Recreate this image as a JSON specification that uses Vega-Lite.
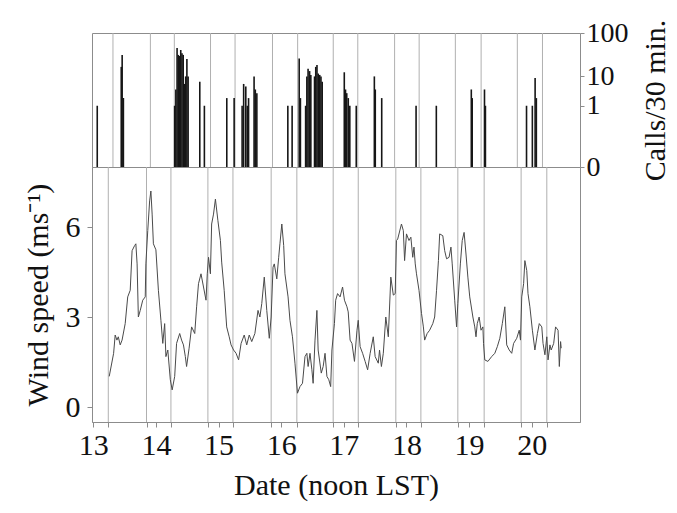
{
  "$schema": "https://vega.github.io/schema/vega-lite/v6.json",
  "padding": {"top": 18, "left": 22, "right": 5, "bottom": 5},
  "background": "white",
  "spacing": 0,
  "bounds": "flush",
  "config": {
    "font": "Liberation Serif",
    "view": {"stroke": "#8c8c8c", "strokeWidth": 1},
    "axis": {
      "labelFont": "Liberation Serif", "titleFont": "Liberation Serif",
      "labelFontSize": 30, "titleFontSize": 30, "titleFontWeight": "normal",
      "labelColor": "#111", "titleColor": "#111",
      "domainColor": "#8c8c8c", "tickColor": "#8c8c8c", "grid": false, "tickSize": 5
    }
  },
  "datasets": {
    "nights": [
      {"date": 13.24}, {"date": 13.85}, {"date": 14.24}, {"date": 14.83}, {"date": 15.23},
      {"date": 15.84}, {"date": 16.25}, {"date": 16.83}, {"date": 17.23}, {"date": 17.83},
      {"date": 18.23}, {"date": 18.82}, {"date": 19.24}, {"date": 19.83}, {"date": 20.24}
    ],
    "calls": [
      {"date": 12.984, "calls": 1},
      {"date": 13.375, "calls": 18}, {"date": 13.39, "calls": 35}, {"date": 13.41, "calls": 2},
      {"date": 14.245, "calls": 1}, {"date": 14.265, "calls": 4}, {"date": 14.285, "calls": 50},
      {"date": 14.305, "calls": 35}, {"date": 14.325, "calls": 33}, {"date": 14.345, "calls": 45},
      {"date": 14.365, "calls": 38}, {"date": 14.385, "calls": 35}, {"date": 14.405, "calls": 6},
      {"date": 14.425, "calls": 10}, {"date": 14.445, "calls": 28}, {"date": 14.465, "calls": 10},
      {"date": 14.655, "calls": 7}, {"date": 14.73, "calls": 1},
      {"date": 15.095, "calls": 2}, {"date": 15.215, "calls": 2},
      {"date": 15.345, "calls": 1}, {"date": 15.37, "calls": 6}, {"date": 15.405, "calls": 5},
      {"date": 15.43, "calls": 1}, {"date": 15.45, "calls": 2},
      {"date": 15.54, "calls": 10}, {"date": 15.56, "calls": 4}, {"date": 15.585, "calls": 3},
      {"date": 16.09, "calls": 1}, {"date": 16.16, "calls": 1},
      {"date": 16.275, "calls": 29}, {"date": 16.295, "calls": 2},
      {"date": 16.38, "calls": 1}, {"date": 16.40, "calls": 10}, {"date": 16.42, "calls": 16},
      {"date": 16.445, "calls": 14}, {"date": 16.465, "calls": 11},
      {"date": 16.525, "calls": 10}, {"date": 16.545, "calls": 18}, {"date": 16.565, "calls": 20},
      {"date": 16.585, "calls": 12}, {"date": 16.61, "calls": 11}, {"date": 16.63, "calls": 10},
      {"date": 16.65, "calls": 7},
      {"date": 17.01, "calls": 13}, {"date": 17.03, "calls": 4}, {"date": 17.05, "calls": 3},
      {"date": 17.075, "calls": 2}, {"date": 17.10, "calls": 1}, {"date": 17.205, "calls": 1},
      {"date": 17.50, "calls": 10}, {"date": 17.515, "calls": 4}, {"date": 17.62, "calls": 2},
      {"date": 18.18, "calls": 1}, {"date": 18.51, "calls": 1},
      {"date": 19.08, "calls": 4}, {"date": 19.095, "calls": 2},
      {"date": 19.295, "calls": 4}, {"date": 19.31, "calls": 1},
      {"date": 19.98, "calls": 1}, {"date": 20.075, "calls": 1},
      {"date": 20.12, "calls": 9}, {"date": 20.14, "calls": 2}
    ],
    "wind": [
      {"date": 13.255, "speed": 1.02}, {"date": 13.325, "speed": 1.79}, {"date": 13.35, "speed": 2.40},
      {"date": 13.378, "speed": 2.23}, {"date": 13.40, "speed": 2.34}, {"date": 13.43, "speed": 2.07},
      {"date": 13.46, "speed": 2.23}, {"date": 13.51, "speed": 2.78}, {"date": 13.55, "speed": 3.67},
      {"date": 13.59, "speed": 3.89}, {"date": 13.62, "speed": 5.21}, {"date": 13.66, "speed": 5.38},
      {"date": 13.68, "speed": 5.44}, {"date": 13.70, "speed": 4.77}, {"date": 13.72, "speed": 3.0},
      {"date": 13.75, "speed": 3.22}, {"date": 13.79, "speed": 3.56}, {"date": 13.83, "speed": 3.67},
      {"date": 13.84, "speed": 4.77}, {"date": 13.87, "speed": 5.88}, {"date": 13.90, "speed": 6.87},
      {"date": 13.92, "speed": 7.2}, {"date": 13.94, "speed": 6.43}, {"date": 13.96, "speed": 5.44},
      {"date": 14.00, "speed": 5.24}, {"date": 14.04, "speed": 3.89}, {"date": 14.08, "speed": 2.89},
      {"date": 14.11, "speed": 2.12}, {"date": 14.14, "speed": 2.78}, {"date": 14.16, "speed": 1.68},
      {"date": 14.19, "speed": 1.9}, {"date": 14.23, "speed": 0.91}, {"date": 14.26, "speed": 0.57},
      {"date": 14.30, "speed": 1.02}, {"date": 14.33, "speed": 2.12}, {"date": 14.38, "speed": 2.45},
      {"date": 14.41, "speed": 2.23}, {"date": 14.44, "speed": 2.07}, {"date": 14.47, "speed": 1.68},
      {"date": 14.49, "speed": 1.35}, {"date": 14.53, "speed": 1.96}, {"date": 14.57, "speed": 2.67},
      {"date": 14.62, "speed": 2.45}, {"date": 14.65, "speed": 3.34}, {"date": 14.68, "speed": 4.11},
      {"date": 14.72, "speed": 4.44}, {"date": 14.76, "speed": 4.0}, {"date": 14.80, "speed": 3.56},
      {"date": 14.82, "speed": 4.44}, {"date": 14.84, "speed": 4.99}, {"date": 14.87, "speed": 4.44},
      {"date": 14.89, "speed": 6.10}, {"date": 14.92, "speed": 6.43}, {"date": 14.95, "speed": 6.93},
      {"date": 14.99, "speed": 6.21}, {"date": 15.03, "speed": 5.55}, {"date": 15.05, "speed": 4.83},
      {"date": 15.09, "speed": 3.89}, {"date": 15.13, "speed": 2.67}, {"date": 15.17, "speed": 2.34},
      {"date": 15.20, "speed": 2.07}, {"date": 15.24, "speed": 1.9}, {"date": 15.28, "speed": 1.79},
      {"date": 15.32, "speed": 1.57}, {"date": 15.36, "speed": 2.12}, {"date": 15.41, "speed": 2.40},
      {"date": 15.45, "speed": 2.07}, {"date": 15.49, "speed": 2.40}, {"date": 15.53, "speed": 2.18},
      {"date": 15.58, "speed": 2.45}, {"date": 15.63, "speed": 3.22}, {"date": 15.66, "speed": 3.0},
      {"date": 15.69, "speed": 3.45}, {"date": 15.73, "speed": 4.33}, {"date": 15.77, "speed": 3.22},
      {"date": 15.81, "speed": 2.29}, {"date": 15.84, "speed": 3.0}, {"date": 15.87, "speed": 4.66},
      {"date": 15.89, "speed": 4.77}, {"date": 15.93, "speed": 4.27}, {"date": 15.96, "speed": 4.99},
      {"date": 15.98, "speed": 5.44}, {"date": 16.01, "speed": 6.10}, {"date": 16.04, "speed": 5.38},
      {"date": 16.06, "speed": 4.44}, {"date": 16.11, "speed": 3.67}, {"date": 16.14, "speed": 2.89},
      {"date": 16.18, "speed": 2.34}, {"date": 16.22, "speed": 1.46}, {"date": 16.26, "speed": 0.46},
      {"date": 16.30, "speed": 0.68}, {"date": 16.34, "speed": 0.79}, {"date": 16.38, "speed": 1.68},
      {"date": 16.41, "speed": 1.79}, {"date": 16.43, "speed": 1.35}, {"date": 16.46, "speed": 1.79},
      {"date": 16.49, "speed": 1.24}, {"date": 16.51, "speed": 0.79}, {"date": 16.54, "speed": 2.23},
      {"date": 16.57, "speed": 3.22}, {"date": 16.59, "speed": 1.9}, {"date": 16.64, "speed": 1.13},
      {"date": 16.67, "speed": 1.35}, {"date": 16.70, "speed": 1.79}, {"date": 16.73, "speed": 1.02},
      {"date": 16.76, "speed": 0.91}, {"date": 16.79, "speed": 0.68}, {"date": 16.81, "speed": 1.9},
      {"date": 16.85, "speed": 2.78}, {"date": 16.87, "speed": 3.56}, {"date": 16.90, "speed": 3.78},
      {"date": 16.94, "speed": 3.67}, {"date": 16.98, "speed": 4.0}, {"date": 17.01, "speed": 3.56},
      {"date": 17.05, "speed": 3.34}, {"date": 17.07, "speed": 3.17}, {"date": 17.10, "speed": 2.23},
      {"date": 17.13, "speed": 2.12}, {"date": 17.17, "speed": 1.52}, {"date": 17.21, "speed": 2.56},
      {"date": 17.23, "speed": 2.89}, {"date": 17.26, "speed": 2.01}, {"date": 17.30, "speed": 1.79},
      {"date": 17.34, "speed": 1.52}, {"date": 17.38, "speed": 1.24}, {"date": 17.42, "speed": 1.79},
      {"date": 17.47, "speed": 2.34}, {"date": 17.50, "speed": 1.68}, {"date": 17.55, "speed": 1.46},
      {"date": 17.57, "speed": 1.9}, {"date": 17.60, "speed": 1.35}, {"date": 17.63, "speed": 1.79},
      {"date": 17.67, "speed": 3.0}, {"date": 17.71, "speed": 2.34}, {"date": 17.75, "speed": 4.33},
      {"date": 17.79, "speed": 3.73}, {"date": 17.82, "speed": 3.78}, {"date": 17.84, "speed": 5.55},
      {"date": 17.86, "speed": 5.6}, {"date": 17.92, "speed": 6.10}, {"date": 17.95, "speed": 5.88},
      {"date": 17.97, "speed": 4.88}, {"date": 18.00, "speed": 5.77}, {"date": 18.04, "speed": 5.55},
      {"date": 18.07, "speed": 5.66}, {"date": 18.10, "speed": 4.99}, {"date": 18.12, "speed": 5.33},
      {"date": 18.14, "speed": 4.77}, {"date": 18.16, "speed": 4.44}, {"date": 18.20, "speed": 3.89},
      {"date": 18.24, "speed": 3.12}, {"date": 18.27, "speed": 2.67}, {"date": 18.29, "speed": 2.23},
      {"date": 18.33, "speed": 2.45}, {"date": 18.37, "speed": 2.56}, {"date": 18.42, "speed": 2.78},
      {"date": 18.45, "speed": 3.0}, {"date": 18.48, "speed": 3.89}, {"date": 18.51, "speed": 4.88},
      {"date": 18.53, "speed": 5.77}, {"date": 18.58, "speed": 5.71}, {"date": 18.61, "speed": 5.21},
      {"date": 18.64, "speed": 4.94}, {"date": 18.68, "speed": 4.99}, {"date": 18.71, "speed": 5.33},
      {"date": 18.73, "speed": 4.77}, {"date": 18.77, "speed": 3.56}, {"date": 18.80, "speed": 2.67},
      {"date": 18.82, "speed": 3.45}, {"date": 18.86, "speed": 4.77}, {"date": 18.89, "speed": 5.55},
      {"date": 18.92, "speed": 5.82}, {"date": 18.95, "speed": 5.10}, {"date": 18.98, "speed": 4.33},
      {"date": 19.01, "speed": 3.67}, {"date": 19.06, "speed": 3.0}, {"date": 19.09, "speed": 2.67},
      {"date": 19.11, "speed": 2.34}, {"date": 19.13, "speed": 2.78}, {"date": 19.16, "speed": 3.0},
      {"date": 19.19, "speed": 2.56}, {"date": 19.22, "speed": 2.67}, {"date": 19.23, "speed": 2.12},
      {"date": 19.25, "speed": 1.57}, {"date": 19.30, "speed": 1.52}, {"date": 19.36, "speed": 1.68},
      {"date": 19.41, "speed": 1.79}, {"date": 19.45, "speed": 2.01}, {"date": 19.49, "speed": 2.29},
      {"date": 19.53, "speed": 2.78}, {"date": 19.57, "speed": 3.34}, {"date": 19.60, "speed": 2.07},
      {"date": 19.64, "speed": 1.9}, {"date": 19.68, "speed": 1.79}, {"date": 19.71, "speed": 2.12},
      {"date": 19.76, "speed": 2.29}, {"date": 19.80, "speed": 2.56}, {"date": 19.82, "speed": 2.23},
      {"date": 19.84, "speed": 3.67}, {"date": 19.87, "speed": 4.11}, {"date": 19.89, "speed": 4.88},
      {"date": 19.92, "speed": 4.55}, {"date": 19.94, "speed": 3.78}, {"date": 19.97, "speed": 3.34},
      {"date": 20.01, "speed": 2.56}, {"date": 20.05, "speed": 1.9}, {"date": 20.09, "speed": 2.45},
      {"date": 20.12, "speed": 2.78}, {"date": 20.16, "speed": 2.67}, {"date": 20.18, "speed": 2.12},
      {"date": 20.21, "speed": 1.74}, {"date": 20.24, "speed": 2.34}, {"date": 20.26, "speed": 1.57},
      {"date": 20.29, "speed": 2.07}, {"date": 20.31, "speed": 1.9}, {"date": 20.35, "speed": 2.12},
      {"date": 20.38, "speed": 2.67}, {"date": 20.42, "speed": 2.56}, {"date": 20.44, "speed": 1.35},
      {"date": 20.46, "speed": 2.18}, {"date": 20.47, "speed": 1.96}
    ]
  },
  "vconcat": [
    {
      "width": 488,
      "height": 134,
      "encoding": {
        "x": {"field": "date", "type": "quantitative", "scale": {"domain": [12.98, 20.77], "nice": false}, "axis": null}
      },
      "layer": [
        {
          "data": {"name": "nights"},
          "mark": {"type": "rule", "color": "#b0b0b0", "strokeWidth": 1},
          "encoding": {}
        },
        {
          "data": {"name": "calls"},
          "mark": {"type": "bar", "width": 1.6, "color": "#161616"},
          "encoding": {
            "y": {
              "field": "calls", "type": "quantitative",
              "scale": {"type": "pow", "exponent": 0.17, "domain": [0, 100], "nice": false},
              "axis": {
                "orient": "right", "values": [0, 1, 10, 100], "title": "Calls/30 min.",
                "titleAngle": -90, "titleBaseline": "top", "tickSize": 4, "labelPadding": 2, "titlePadding": 12,
                "labelFontSize": 28, "labelOverlap": false, "labelFlush": false, "domain": false
              }
            }
          }
        }
      ]
    },
    {
      "width": 488,
      "height": 255,
      "encoding": {
        "x": {
          "field": "date", "type": "quantitative",
          "scale": {"domain": [12.98, 20.77], "nice": false},
          "axis": {
            "title": "Date (noon LST)",
            "values": [13, 13.24, 13.85, 14, 14.24, 14.83, 15, 15.23, 15.84, 16, 16.25, 16.83, 17, 17.23, 17.83, 18, 18.23, 18.82, 19, 19.24, 19.83, 20, 20.24],
            "labelExpr": "datum.value % 1 == 0 ? format(datum.value, 'd') : ''",
            "labelOverlap": false, "labelFlush": false, "labelPadding": 3, "titlePadding": 10,
            "tickSize": 5
          }
        }
      },
      "layer": [
        {
          "data": {"name": "nights"},
          "mark": {"type": "rule", "color": "#b0b0b0", "strokeWidth": 1},
          "encoding": {}
        },
        {
          "data": {"name": "wind"},
          "mark": {"type": "line", "color": "#4a4a4a", "strokeWidth": 1},
          "encoding": {
            "y": {
              "field": "speed", "type": "quantitative",
              "scale": {"domain": [-0.5, 8], "nice": false, "zero": false},
              "axis": {
                "values": [0, 3, 6], "title": "Wind speed (ms⁻¹)",
                "tickSize": 5, "labelPadding": 7, "titlePadding": 12, "domain": false
              }
            }
          }
        }
      ]
    }
  ]
}
